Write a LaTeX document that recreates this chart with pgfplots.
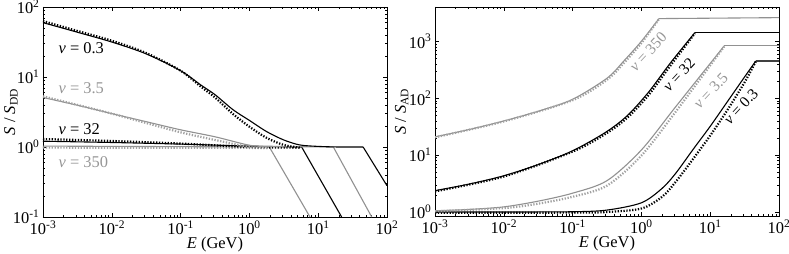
\documentclass[border=0pt]{standalone}
\usepackage{fontspec}
\setmainfont{Liberation Serif}
\usepackage{pgfplots}
\pgfplotsset{compat=1.18}
\definecolor{gline}{RGB}{145,145,145}
\definecolor{gtext}{RGB}{150,150,150}
\newcommand{\fs}{\fontsize{16.5}{19}\selectfont}
\newcommand{\fr}{\fontsize{15.5}{18}\selectfont}
\newcommand{\nuv}{\textit{ν}}

\pgfplotsset{
  every axis/.append style={
    scale only axis, width=344bp, height=210bp,
    xmin=1e-3, xmax=100,
    xtick={1e-3,1e-2,1e-1,1,10,100},
    xticklabels={10\textsuperscript{-3},10\textsuperscript{-2},10\textsuperscript{-1},10\textsuperscript{0},10\textsuperscript{1},10\textsuperscript{2}},
    tick align=inside,
    major tick length=4bp, minor tick length=2bp,
    axis line style={line width=0.8bp},
    every tick/.style={black, line width=0.5bp},
    tick label style={font=\fs},
    label style={font=\fs},
    xlabel={\textit{E} (GeV)},
    xlabel shift=-4bp,
    every axis y label/.style={at={(axis description cs:-0.093,0.5)}, anchor=center, rotate=90, font=\fs},
  },
  sol/.style={line width=1.1bp, no marks},
  dot/.style={line width=2.2bp, no marks, dash pattern=on 1.3bp off 1.6bp},
}

\begin{document}
\begin{tikzpicture}
\path[use as bounding box] (-43bp,-37bp) rectangle (746bp,217bp);

% left panel: S / S_DD
\begin{loglogaxis}[at={(0bp,0bp)}, anchor=south west,
  ymin=0.1, ymax=100,
  ytick={0.1,1,10,100},
  yticklabels={10\textsuperscript{-1},10\textsuperscript{0},10\textsuperscript{1},10\textsuperscript{2}},
  ylabel={\textit{S} / \textit{S}\textsubscript{DD}},
]
% nu = 350
\addplot[sol, gline] coordinates {(1e-3,1.03) (1.95,1.0)};
\addplot[sol, gline] coordinates {(1.95,1.0) (7.6,0.1)};
\addplot[dot, gline!85] coordinates {(1e-3,0.98) (1.9,0.97)};
% nu = 32
\addplot[sol, black, smooth] coordinates {(1e-3,1.21) (1e-2,1.16) (0.1,1.10) (1,1.03) (5.75,1.0)};
\addplot[sol, black] coordinates {(5.75,1.0) (21.9,0.1)};
\addplot[dot, black, smooth] coordinates {(1e-3,1.30) (1e-2,1.22) (0.1,1.12) (1,1.0) (5.4,0.98)};
% nu = 3.5
\addplot[sol, gline, smooth] coordinates {(1e-3,5.1) (3.16e-3,3.95) (1e-2,3.0) (3.16e-2,2.3) (0.1,1.76) (0.316,1.40) (1,1.06) (2,1.02) (16.6,1.0)};
\addplot[sol, gline] coordinates {(16.6,1.0) (60,0.1)};
\addplot[dot, gline!85, smooth] coordinates {(1e-3,5.3) (3.16e-3,4.0) (1e-2,3.0) (3.16e-2,2.2) (0.1,1.62) (0.316,1.26) (1,1.0) (1.9,0.97)};
% nu = 0.3
\addplot[sol, black, smooth] coordinates {(1e-3,59.7) (2e-3,49.5) (3.16e-3,43.6) (1e-2,31.6) (3.16e-2,21.4) (0.1,12.3) (0.2,7.6) (0.316,5.6) (0.58,3.4) (1,2.4) (1.78,1.66) (3.16,1.26) (5.4,1.07) (10,1.02) (20,1.0) (45,1.0)};
\addplot[sol, black] coordinates {(45,1.0) (100,0.28)};
\addplot[dot, black, smooth] coordinates {(1e-3,63) (3.16e-3,45.5) (1e-2,33) (3.16e-2,22) (0.1,12.3) (0.2,7.2) (0.316,5.1) (0.58,2.95) (1,1.95) (1.78,1.35) (3.16,1.07) (5.4,0.98)};

\node[anchor=west, font=\fs, black] at (axis cs:1.5e-3,25.9) {\nuv\ = 0.3};
\node[anchor=west, font=\fs, gtext] at (axis cs:1.5e-3,7.0) {\nuv\ = 3.5};
\node[anchor=west, font=\fs, black] at (axis cs:1.5e-3,1.78) {\nuv\ = 32};
\node[anchor=west, font=\fs, gtext] at (axis cs:1.5e-3,0.60) {\nuv\ = 350};
\end{loglogaxis}

% right panel: S / S_AD
\begin{loglogaxis}[at={(392bp,1bp)}, anchor=south west, height=209bp,
  ymin=0.85, ymax=4000,
  ytick={1,10,100,1000},
  yticklabels={10\textsuperscript{0},10\textsuperscript{1},10\textsuperscript{2},10\textsuperscript{3}},
  ylabel={\textit{S} / \textit{S}\textsubscript{AD}},
  every axis y label/.style={at={(axis description cs:-0.097,0.5)}, anchor=center, rotate=90, font=\fs},
]
% nu = 0.3
\addplot[sol, black, smooth] coordinates {(1e-3,1.0) (1e-2,1.0) (0.1,1.01) (0.316,1.08) (1,1.45) (2,2.6) (3.16,4.8) (5.62,12.5) (10,32) (17.8,87) (31.6,236) (46,450)};
\addplot[sol, black!75] coordinates {(46,450) (100,450)};
\addplot[dot, black, smooth] coordinates {(1e-3,0.97) (0.1,0.975) (0.316,1.0) (1,1.15) (2,1.85) (3.16,3.4) (5.62,8.5) (10,22) (17.8,62) (31.6,190) (46,440)};
% nu = 3.5
\addplot[sol, gline, smooth] coordinates {(1e-3,1.05) (3.16e-3,1.11) (1e-2,1.23) (3.16e-2,1.55) (0.1,2.14) (0.316,3.55) (1,12.3) (3.16,71) (16,830)};
\addplot[sol, gline] coordinates {(16,830) (100,830)};
\addplot[dot, gline!85, smooth] coordinates {(1e-3,1.03) (1e-2,1.17) (3.16e-2,1.40) (0.1,1.85) (0.316,2.9) (1,9.8) (3.16,58) (16,810)};
% nu = 32
\addplot[sol, black, smooth] coordinates {(1e-3,2.37) (3.16e-3,3.1) (1e-2,4.33) (3.16e-2,6.8) (0.1,11.9) (0.3,25) (0.62,49) (1.26,126) (2.67,423) (6.0,1420)};
\addplot[sol, black] coordinates {(6.0,1420) (100,1420)};
\addplot[dot, black, smooth] coordinates {(1e-3,2.3) (1e-2,4.2) (0.1,11.5) (0.3,23.5) (0.62,45) (1.26,112) (2.67,380) (6.0,1380)};
% nu = 350
\addplot[sol, gline, smooth] coordinates {(1e-3,20.9) (3.16e-3,28.2) (1e-2,39.8) (3.16e-2,58.9) (0.1,95.5) (0.316,224) (0.562,457) (1,1000) (1.8,2500)};
\addplot[sol, gline] coordinates {(1.8,2500) (100,2600)};
\addplot[dot, gline!85, smooth] coordinates {(1e-3,20.5) (1e-2,39) (0.1,92) (0.316,210) (0.562,420) (1,930) (1.8,2450)};

\node[rotate=47, font=\fr, gtext, inner sep=0pt] at (axis cs:1.25,655) {\nuv\ = 350};
\node[rotate=47, font=\fr, black, inner sep=0pt] at (axis cs:3.52,255) {\nuv\ = 32};
\node[rotate=47, font=\fr, gtext, inner sep=0pt] at (axis cs:10.2,134) {\nuv\ = 3.5};
\node[rotate=47, font=\fr, black, inner sep=0pt] at (axis cs:27.9,71) {\nuv\ = 0.3};
\end{loglogaxis}
\end{tikzpicture}
\end{document}
